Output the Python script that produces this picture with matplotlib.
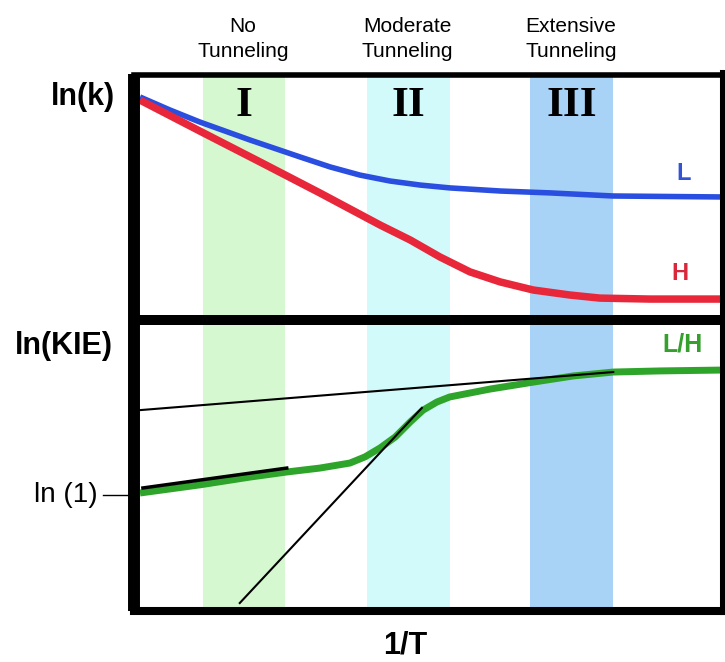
import matplotlib
matplotlib.use("Agg")
import matplotlib.pyplot as plt

# ---- data (abstract units: x 0..10 across the frame, y 0..10 in each panel) ----
band_names = ["No", "Moderate", "Extensive"]
band_numerals = ["I", "II", "III"]
band_edges = [(1.09, 2.50), (3.91, 5.34), (6.72, 8.16)]
band_colors = ["#d6f8d1", "#d2fafb", "#a8d3f7"]

light_x = [0, 0.52, 1.03, 1.90, 2.76, 3.28, 3.79, 4.31, 4.83, 5.34, 6.21, 7.07, 8.16, 10.0]
light_y = [9.16, 8.61, 8.11, 7.35, 6.64, 6.22, 5.88, 5.63, 5.46, 5.34, 5.21, 5.13, 5.00, 4.96]

heavy_x = [0, 1.03, 2.07, 3.10, 4.14, 4.66, 5.17, 5.69, 6.21, 6.78, 7.41, 7.93, 8.79, 10.0]
heavy_y = [9.03, 7.73, 6.43, 5.13, 3.78, 3.15, 2.44, 1.81, 1.39, 1.05, 0.84, 0.71, 0.67, 0.67]

kie_x = [0, 1.03, 1.90, 2.53, 3.10, 3.62, 3.88, 4.14, 4.40, 4.66, 4.88, 5.12, 5.34, 6.03,
         6.78, 7.47, 8.16, 8.97, 10.0]
kie_y = [4.00, 4.29, 4.57, 4.75, 4.89, 5.07, 5.29, 5.61, 6.00, 6.54, 6.96, 7.25, 7.43, 7.71,
         7.96, 8.18, 8.32, 8.36, 8.39]

shallow_x = [0, 8.16]
shallow_y = [6.96, 8.32]
short_x = [0.05, 2.53]
short_y = [4.18, 4.89]
steep_x = [1.72, 4.86]
steep_y = [0.07, 7.04]

ln1_level = 3.93

# ---- figure ----
W, H = 725, 662
fig = plt.figure(figsize=(W / 100, H / 100), dpi=100)

def px_to_fig(x, y):
    return x / W, 1 - y / H

left_c, right_c = 134, 724
top_c, mid_c, bot_c = 74.5, 320, 611
ax_top = fig.add_axes([left_c / W, 1 - mid_c / H, (right_c - left_c) / W, (mid_c - top_c) / H])
ax_bot = fig.add_axes([left_c / W, 1 - bot_c / H, (right_c - left_c) / W, (bot_c - mid_c) / H])

xlim = ((left_c - 140) / 58, (right_c - 140) / 58)
for ax in (ax_top, ax_bot):
    ax.set_xlim(*xlim)
    ax.set_xticks([])
    ax.set_yticks([])
    for (a, b), c in zip(band_edges, band_colors):
        ax.axvspan(a, b, color=c, lw=0, zorder=0)
    for name, s in ax.spines.items():
        s.set_color("black")
        s.set_capstyle("butt" if name == "left" else "projecting")
        s.set_zorder(10)
ax_top.set_ylim((315 - mid_c) / 23.8, (315 - top_c) / 23.8)
ax_bot.set_ylim((605 - bot_c) / 28, (605 - mid_c) / 28)

ax_top.spines["left"].set_linewidth(8.6)
ax_top.spines["top"].set_linewidth(4.0)
ax_top.spines["right"].set_linewidth(5.8)
ax_top.spines["bottom"].set_linewidth(7.2)
ax_bot.spines["left"].set_linewidth(8.6)
ax_bot.spines["top"].set_linewidth(7.2)
ax_bot.spines["right"].set_linewidth(5.8)
ax_bot.spines["bottom"].set_linewidth(5.8)

# ---- top panel ----
ax_top.plot(light_x, light_y, color="#2a4ee0", lw=4.0, solid_capstyle="butt", zorder=3)
ax_top.plot(heavy_x, heavy_y, color="#e8283a", lw=5.4, solid_capstyle="butt", zorder=3)

sans = ["Liberation Sans", "DejaVu Sans"]
serif = ["Liberation Serif", "DejaVu Serif"]

for (a, b), num in zip(band_edges, band_numerals):
    ax_top.text((a + b) / 2, (315 - 116) / 23.8, num, ha="center", va="baseline",
                family=serif, fontweight="bold", fontsize=31, zorder=5)

ax_top.text((684 - 140) / 58, (315 - 180) / 23.8, "L", color="#3352d6", family=sans,
            fontweight="bold", fontsize=17, ha="center", va="baseline")
ax_top.text((680 - 140) / 58, (315 - 280) / 23.8, "H", color="#d9283c", family=sans,
            fontweight="bold", fontsize=17, ha="center", va="baseline")

# ---- bottom panel ----
ax_bot.plot(kie_x, kie_y, color="#2ea52a", lw=5.0, solid_capstyle="butt", zorder=3)
ax_bot.plot(shallow_x, shallow_y, color="black", lw=1.5, zorder=4)
ax_bot.plot(short_x, short_y, color="black", lw=2.5, zorder=4)
ax_bot.plot(steep_x, steep_y, color="black", lw=1.5, zorder=4)
ax_bot.plot([(103 - 140) / 58, (128 - 140) / 58], [ln1_level, ln1_level], color="black",
            lw=1.0, clip_on=False)

ax_bot.text((682 - 140) / 58, (605 - 352) / 28, "L/H", color="#35a02e", family=sans,
            fontweight="bold", fontsize=18, ha="center", va="baseline")

# ---- outside labels ----
header_x = [243, 407, 571]
for name, hx in zip(band_names, header_x):
    fig.text(*px_to_fig(hx, 32), name, ha="center", va="baseline", family=sans, fontsize=15)
    fig.text(*px_to_fig(hx, 57), "Tunneling", ha="center", va="baseline", family=sans, fontsize=15)

fig.text(*px_to_fig(115, 105), "ln(k)", ha="right", va="baseline", family=sans,
         fontweight="bold", fontsize=22)
fig.text(*px_to_fig(113, 354), "ln(KIE)", ha="right", va="baseline", family=sans,
         fontweight="bold", fontsize=22)
fig.text(*px_to_fig(98, 502), "ln (1)", ha="right", va="baseline", family=sans, fontsize=20)
fig.text(*px_to_fig(405, 631), "1/T", ha="center", va="top", family=sans,
         fontweight="bold", fontsize=22)

fig.savefig("out.png", dpi=100)
